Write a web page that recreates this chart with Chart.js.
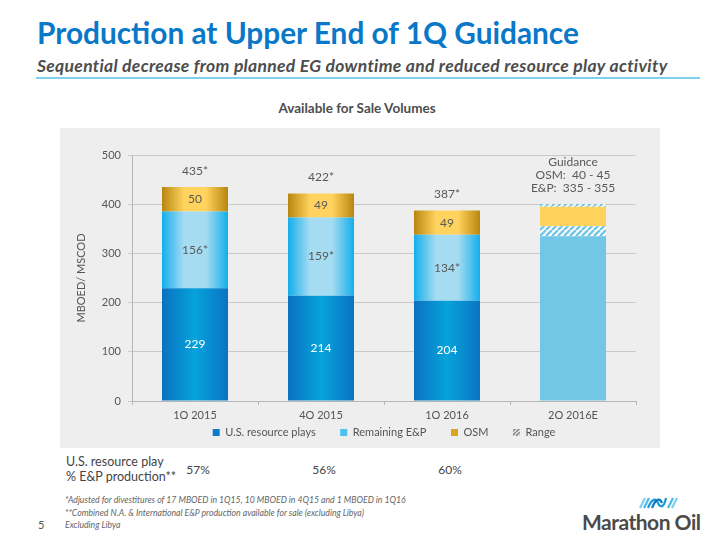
<!DOCTYPE html>
<html>
<head>
<meta charset="utf-8">
<script src="https://cdn.jsdelivr.net/npm/chart.js@4.4.1/dist/chart.umd.min.js"></script>
<style>
  html, body { margin: 0; padding: 0; background: #fff; }
  body { width: 720px; height: 540px; position: relative; overflow: hidden; font-family: 'Lato', sans-serif; color: #555; }
  .abs { position: absolute; white-space: nowrap; }
  #title { left: 37px; top: 16px; font-size: 29.8px; line-height: 34px; font-weight: 700; color: #0a78c8; }
  #subtitle { left: 37px; top: 57px; font-size: 17.5px; line-height: 18px; font-weight: 700; font-style: italic; color: #4d4d4d; letter-spacing: 0.3px; }
  #rule { left: 36px; top: 77px; width: 664px; height: 2px; background: #7fd0ef; }
  #chartTitle { left: 0; width: 714px; text-align: center; top: 99px; font-size: 13.5px; line-height: 18px; font-weight: 700; color: #4d4d4d; }
  #panel { left: 60px; top: 128px; width: 600px; height: 320px; background: #eeeeee; }
  #rowLabel { left: 66px; top: 455px; font-size: 12.5px; line-height: 14.5px; color: #444; }
  .pct { top: 462px; font-size: 12px; line-height: 16px; color: #444; transform: translateX(-50%); }
  #notes { left: 65px; top: 494px; font-size: 8.7px; line-height: 12.5px; font-style: italic; color: #666; }
  #page { left: 38px; top: 518px; font-size: 11px; color: #555; }
  #logo { left: 582px; top: 494px; width: 120px; height: 40px; }
  #logoText { left: 582px; top: 510px; font-size: 21px; line-height: 24px; font-weight: 700; color: #4a4a4a; letter-spacing: -0.5px; }
</style>
</head>
<body>
<div id="title" class="abs">Production at Upper End of 1Q Guidance</div>
<div id="subtitle" class="abs">Sequential decrease from planned EG downtime and reduced resource play activity</div>
<div id="rule" class="abs"></div>
<div id="chartTitle" class="abs">Available for Sale Volumes</div>
<div id="panel" class="abs"><canvas id="mainChart" width="600" height="320"></canvas></div>
<div id="rowLabel" class="abs">U.S. resource play<br>% E&amp;P production**</div>
<div id="notes" class="abs">*Adjusted for divestitures of 17 MBOED in 1Q15, 10 MBOED in 4Q15 and 1 MBOED in 1Q16<br>**Combined N.A. &amp; International E&amp;P production available for sale (excluding Libya)<br>Excluding Libya</div>
<div id="page" class="abs">5</div>
<svg id="logo" class="abs" viewBox="0 0 120 40">
  <g fill="none" stroke-width="2.2">
    <path d="M58 14 L63 4" stroke="#7fd0ef"/>
    <path d="M62 14 L67 4" stroke="#4fb8e8"/>
    <path d="M66 14 C70 4 74 4 76 9 C78 14 82 14 84 4" stroke="#1a9ad8"/>
    <path d="M70 14 C74 4 78 4 80 9" stroke="#0a78c8"/>
    <path d="M86 14 L91 4" stroke="#4fb8e8"/>
    <path d="M90 14 L95 4" stroke="#7fd0ef"/>
  </g>
</svg>
<div id="logoText" class="abs">Marathon Oil</div>

<script>
// ---- datos ----
const quarters = ['1Q 2015', '4Q 2015', '1Q 2016', '2Q 2016E'];
const usResource = [229, 214, 204, null];
const remainingEP = [156, 159, 134, null];
const osm = [50, 49, 49, null];
const guidanceEP = [335, 355];   // E&P: 335 - 355
const guidanceOSM = [40, 45];    // OSM: 40 - 45
const usSharePct = [57, 56, 60];
const yTicks = [0, 100, 200, 300, 400, 500];

const BAR_PCT = 0.524;
const TEXT = '#595959';

// degradado horizontal por barra (como el original)
function barGradient(stops, fallback) {
    return (ctx) => {
        const chart = ctx.chart;
        const x = chart.scales.x;
        if (!chart.chartArea || !x) return fallback;
        const cx = x.getPixelForValue(ctx.dataIndex);
        const half = (x.width / quarters.length) * BAR_PCT / 2;
        const g = chart.ctx.createLinearGradient(cx - half, 0, cx + half, 0);
        stops.forEach((c, i) => g.addColorStop(i / (stops.length - 1), c));
        return g;
    };
}

function hatchPattern(bg, stripe, size) {
    const c = document.createElement('canvas');
    c.width = c.height = size;
    const p = c.getContext('2d');
    p.fillStyle = bg;
    p.fillRect(0, 0, size, size);
    p.strokeStyle = stripe;
    p.lineWidth = size * 0.4;
    p.beginPath();
    for (let k = -1; k <= 1; k++) {
        p.moveTo(k * size, size);
        p.lineTo(k * size + size, 0);
    }
    p.stroke();
    return p.createPattern(c, 'repeat');
}

const canvas = document.getElementById('mainChart');
const hatch = hatchPattern('#ffffff', '#72c6e6', 6);
const hatchLegend = hatchPattern('#eeeeee', '#8a8a8a', 4);

const guideEP = [null, null, null, guidanceEP[0]];
const rangeEP = [null, null, null, guidanceEP[1] - guidanceEP[0]];
const guideOSM = [null, null, null, guidanceOSM[0]];
const rangeOSM = [null, null, null, guidanceOSM[1] - guidanceOSM[0]];

const legendColors = ['#0a7ccc', '#4cc0ee', '#d9a520', hatchLegend];
const GAP = '\u2003\u2003'; // separación extra entre items de la leyenda

// etiquetas dentro/encima de las barras
const barLabels = {
    id: 'barLabels',
    afterDatasetsDraw(chart) {
        const ctx = chart.ctx;
        ctx.save();
        ctx.textAlign = 'center';
        ctx.textBaseline = 'middle';
        ctx.font = "12px 'Lato', sans-serif";
        const colors = ['#ffffff', TEXT, TEXT];
        const stars = ['', '*', ''];
        for (let d = 0; d < 3; d++) {
            const meta = chart.getDatasetMeta(d);
            meta.data.forEach((bar, i) => {
                const v = chart.data.datasets[d].data[i];
                if (v == null) return;
                const { x, y, base } = bar.getProps(['x', 'y', 'base'], true);
                ctx.fillStyle = colors[d];
                ctx.fillText(v + stars[d], x, (y + base) / 2);
            });
        }
        // totales
        const top = chart.getDatasetMeta(2);
        top.data.forEach((bar, i) => {
            if (osm[i] == null) return;
            const total = usResource[i] + remainingEP[i] + osm[i];
            const { x, y } = bar.getProps(['x', 'y'], true);
            ctx.fillStyle = TEXT;
            ctx.fillText(total + '*', x, y - 16);
        });
        // texto de guía
        const g = chart.getDatasetMeta(6).data[3];
        const { x, y } = g.getProps(['x', 'y'], true);
        const lines = ['Guidance',
            'OSM:  ' + guidanceOSM[0] + ' - ' + guidanceOSM[1],
            'E&P:  ' + guidanceEP[0] + ' - ' + guidanceEP[1]];
        lines.reverse().forEach((t, k) => ctx.fillText(t, x, y - 16.5 - k * 12.7));
        ctx.restore();
    }
};

const mainChart = new Chart(canvas, {
    type: 'bar',
    data: {
        labels: quarters,
        datasets: [
            { label: 'U.S. resource plays', data: usResource,
              backgroundColor: barGradient(['#0a72c0', '#06a3dc', '#0a74c2'], '#0a86d0') },
            { label: 'Remaining E&P', data: remainingEP,
              backgroundColor: barGradient(['#13aeeb', '#a6dcf2', '#a6dcf2', '#13aeeb'], '#6cc8ee') },
            { label: 'OSM', data: osm,
              backgroundColor: barGradient(['#b8860e', '#ffd35e', '#ffd35e', '#b8860e'], '#e6b43a') },
            { label: 'E&P guidance', data: guideEP, backgroundColor: '#72c6e6' },
            { label: 'Range', data: rangeEP, backgroundColor: hatch },
            { label: 'OSM guidance', data: guideOSM, backgroundColor: '#ffd25e' },
            { label: 'OSM range', data: rangeOSM, backgroundColor: hatch }
        ]
    },
    options: {
        responsive: false,
        animation: false,
        datasets: {
            bar: { barPercentage: 1, categoryPercentage: BAR_PCT, borderWidth: 0 }
        },
        layout: { padding: { top: 27, right: 24, bottom: 0, left: 0 } },
        plugins: {
            legend: {
                position: 'bottom',
                fullSize: false,
                labels: {
                    color: '#555',
                    font: { family: "'Lato', sans-serif", size: 11 },
                    boxWidth: 7,
                    boxHeight: 7,
                    padding: 8,
                    generateLabels: (chart) => {
                        const keep = [0, 1, 2, 4];
                        return keep.map((d, k) => ({
                            text: chart.data.datasets[d].label + (k < keep.length - 1 ? GAP : ''),
                            fillStyle: legendColors[k],
                            strokeStyle: 'rgba(0,0,0,0)',
                            lineWidth: 0,
                            fontColor: '#555',
                            datasetIndex: d
                        }));
                    }
                }
            },
            tooltip: { enabled: false }
        },
        scales: {
            x: {
                stacked: true,
                grid: { drawOnChartArea: false, drawTicks: true, tickLength: 4, color: '#b5b5b5' },
                border: { color: '#b5b5b5' },
                ticks: { color: '#555', padding: 4, font: { family: "'Lato', sans-serif", size: 11 } },
                afterFit: (scale) => { scale.height = 18; }
            },
            y: {
                stacked: true,
                min: 0,
                max: 500,
                afterBuildTicks: (scale) => { scale.ticks = yTicks.map(v => ({ value: v })); },
                grid: { color: '#c9c9c9', tickLength: 4 },
                border: { color: '#b5b5b5' },
                ticks: { color: '#555', padding: 7, font: { family: "'Lato', sans-serif", size: 11 } },
                title: {
                    display: true,
                    text: 'MBOED/ MSCOD',
                    color: '#555',
                    font: { family: "'Lato', sans-serif", size: 11 },
                    padding: { top: 15, bottom: 0 }
                },
                afterFit: (scale) => { scale.width = 72; }
            }
        }
    },
    plugins: [barLabels]
});

// fila de porcentajes alineada con las barras
const xs = mainChart.scales.x;
usSharePct.forEach((p, i) => {
    const el = document.createElement('div');
    el.className = 'abs pct';
    el.style.left = (60 + xs.getPixelForValue(i) + 3) + 'px';
    el.textContent = p + '%';
    document.body.appendChild(el);
});
</script>
</body>
</html>
